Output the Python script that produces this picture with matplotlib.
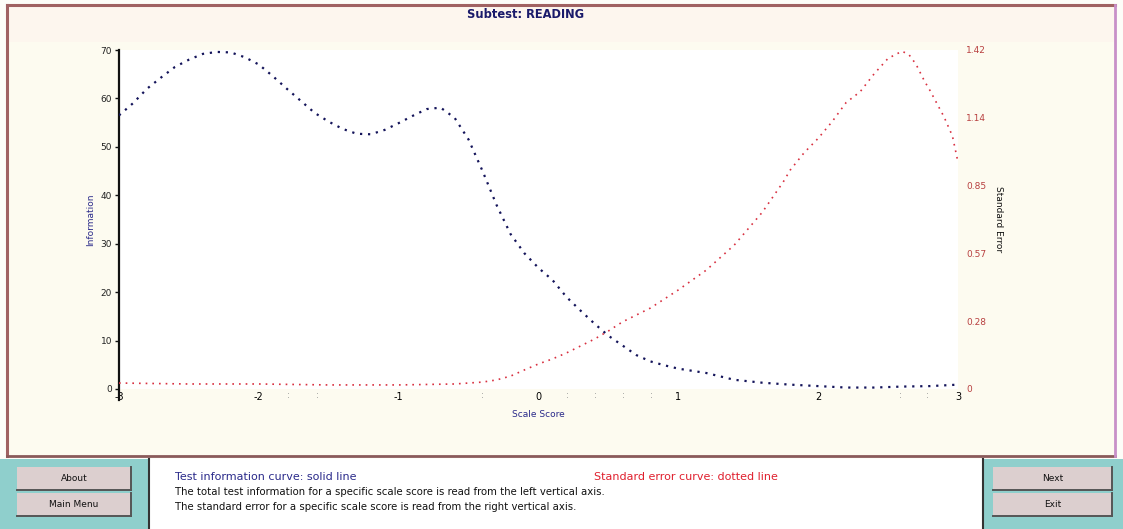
import matplotlib
matplotlib.use("Agg")
import matplotlib.pyplot as plt
from matplotlib.patches import Rectangle
from matplotlib.lines import Line2D

# ---- data -------------------------------------------------------------
scale_score = [-3.0, -2.9, -2.8, -2.7, -2.6, -2.5, -2.4, -2.3, -2.2, -2.1,
               -2.0, -1.9, -1.8, -1.7, -1.6, -1.5, -1.4, -1.3, -1.2, -1.1,
               -1.0, -0.9, -0.8, -0.7, -0.6, -0.5, -0.4, -0.3, -0.2, -0.1,
               0.0, 0.1, 0.2, 0.3, 0.4, 0.5, 0.6, 0.7, 0.8, 0.9,
               1.0, 1.2, 1.4, 1.6, 1.8, 2.0, 2.2, 2.4, 2.6, 2.8, 3.0]
information = [56.5, 59.0, 62.0, 64.3, 66.5, 68.0, 69.2, 69.6, 69.5, 68.5,
               67.0, 64.6, 62.0, 59.5, 57.0, 55.2, 53.7, 52.7, 52.6, 53.5,
               54.9, 56.4, 57.8, 58.1, 56.0, 51.5, 45.0, 38.0, 32.0, 28.0,
               25.0, 22.5, 19.0, 16.2, 13.5, 11.0, 9.0, 7.0, 5.7, 4.9,
               4.2, 3.3, 1.9, 1.3, 0.9, 0.6, 0.3, 0.3, 0.5, 0.6, 0.9]

se_score = [-3.0, -2.5, -2.0, -1.5, -1.0, -0.6, -0.4, -0.3, -0.2, -0.1,
            0.0, 0.1, 0.2, 0.3, 0.4, 0.5, 0.6, 0.8, 1.0, 1.2,
            1.4, 1.6, 1.75, 1.8, 1.9, 2.0, 2.1, 2.2, 2.3, 2.4,
            2.5, 2.6, 2.65, 2.7, 2.76, 2.8, 2.9, 2.96, 3.0]
std_error = [0.025, 0.021, 0.021, 0.017, 0.017, 0.021, 0.029, 0.038, 0.054, 0.080,
             0.105, 0.126, 0.151, 0.180, 0.209, 0.243, 0.281, 0.339, 0.415, 0.498,
             0.603, 0.740, 0.867, 0.917, 0.990, 1.050, 1.120, 1.200, 1.245, 1.320,
             1.385, 1.415, 1.400, 1.360, 1.290, 1.250, 1.140, 1.060, 0.950]

x_ticks = [-3, -2, -1, 0, 1, 2, 3]
info_ticks = [0, 10, 20, 30, 40, 50, 60, 70]
se_ticks = [0.0, 0.284, 0.568, 0.852, 1.136, 1.42]
se_tick_labels = ["0", "0.28", "0.57", "0.85", "1.14", "1.42"]
minor_marks = [-1.79, -1.58, -0.40, 0.21, 0.41, 0.61, 0.81, 2.59, 2.78]

# ---- figure -----------------------------------------------------------
W, H = 1123, 529
fig = plt.figure(figsize=(W / 100, H / 100), dpi=100)
fig.patch.set_facecolor("#fdfdf8")


def fx(x):
    return x / W


def fy(y):
    return 1 - y / H


def rect(x0, y0, x1, y1, z=-2, **kw):
    fig.patches.append(Rectangle((fx(x0), fy(y1)), fx(x1 - x0), (y1 - y0) / H,
                                 transform=fig.transFigure, zorder=z, **kw))


def hline(x0, x1, y, z=-1, **kw):
    fig.lines.append(Line2D([fx(x0), fx(x1)], [fy(y), fy(y)],
                            transform=fig.transFigure, zorder=z, **kw))


def vline(x, y0, y1, z=-1, **kw):
    fig.lines.append(Line2D([fx(x), fx(x)], [fy(y0), fy(y1)],
                            transform=fig.transFigure, zorder=z, **kw))


# chart frame
rect(7, 5, 1115, 456, facecolor="#fdfbf0", edgecolor="none")
rect(7, 5, 1115, 42, facecolor="#fdf6ee", edgecolor="none")
hline(7, 1115, 5, color="#a06262", lw=2.2)
vline(7, 5, 456, color="#a06262", lw=2.2)
hline(7, 1115, 456, color="#8a5a5a", lw=2.0)
vline(1115, 5, 456, color="#c890c8", lw=2.0)

# bottom control strip
rect(0, 459, W, H, facecolor="#8fcfcc", edgecolor="none")
rect(149, 459, 983, H, z=-1.5, facecolor="#ffffff", edgecolor="none")
vline(149, 459, H, color="#333333", lw=1.5)
vline(983, 459, H, color="#333333", lw=1.5)

buttons = [("About", 17, 467, 131, 490), ("Main Menu", 17, 493, 131, 516),
           ("Next", 993, 467, 1112, 490), ("Exit", 993, 493, 1112, 516)]
for label, x0, y0, x1, y1 in buttons:
    rect(x0, y0, x1, y1, z=-1.5, facecolor="#dccfcf", edgecolor="none")
    hline(x0, x1, y1, color="#555555", lw=1.4)
    vline(x1, y0, y1, color="#555555", lw=1.4)
    fig.text(fx((x0 + x1) / 2), fy((y0 + y1) / 2), label, ha="center", va="center",
             fontsize=6.5, color="#111111")

fig.text(fx(175), fy(477), "Test information curve: solid line", fontsize=8,
         color="#2a2a8a", va="center")
fig.text(fx(594), fy(477), "Standard error curve: dotted line", fontsize=8,
         color="#e0202e", va="center")
fig.text(fx(175), fy(492),
         "The total test information for a specific scale score is read from the left vertical axis.",
         fontsize=7.3, color="#111111", va="center")
fig.text(fx(175), fy(507),
         "The standard error for a specific scale score is read from the right vertical axis.",
         fontsize=7.3, color="#111111", va="center")

# ---- plot -------------------------------------------------------------
ax = fig.add_axes([fx(119), fy(389), fx(958 - 119), 339 / H])
ax.set_facecolor("white")
ax.set_xlim(-3, 3)
ax.set_ylim(0, 70)
for side in ("top", "right", "bottom"):
    ax.spines[side].set_visible(False)
ax.spines["left"].set_color("#111111")
ax.spines["left"].set_linewidth(1.6)
ax.spines["left"].set_bounds(-2.2, 70)
ax.set_yticks(info_ticks)
ax.set_yticklabels([str(t) for t in info_ticks])
ax.tick_params(axis="y", length=3, width=1, color="#111111", pad=2,
               labelsize=6.5, labelcolor="#222222")
ax.set_xticks(x_ticks)
ax.set_xticklabels([str(t) for t in x_ticks])
ax.tick_params(axis="x", length=0, pad=2, labelsize=7, labelcolor="#000000")

for m in minor_marks:
    ax.text(m, -1.4, ":", ha="center", va="center", fontsize=6.5, color="#8a8a8a")

ax.plot(scale_score, information, color="#14145a", lw=1.6,
        linestyle=(0, (1.0, 2.6)), zorder=3)

ax.set_xlabel("Scale Score", fontsize=6.5, color="#2a2a8a", labelpad=6)
ax.set_ylabel("Information", fontsize=6.5, color="#2a2a8a", labelpad=4)

ax2 = ax.twinx()
ax2.set_ylim(0, 1.42)
for side in ("top", "left", "bottom", "right"):
    ax2.spines[side].set_visible(False)
ax2.set_yticks(se_ticks)
ax2.set_yticklabels(se_tick_labels)
ax2.tick_params(axis="y", length=0, pad=6, labelsize=6.5, labelcolor="#b84040")
ax2.plot(se_score, std_error, color="#d83040", lw=1.2,
         linestyle=(0, (1.0, 3.0)), zorder=3)
ax2.set_ylabel("Standard Error", fontsize=6.5, color="#111111", rotation=270,
               labelpad=12)

fig.text(fx(526), fy(15), "Subtest: READING", ha="center", va="center",
         fontsize=8.3, fontweight="bold", color="#1a1a6a")

fig.savefig("out.png", dpi=100, facecolor=fig.get_facecolor())
